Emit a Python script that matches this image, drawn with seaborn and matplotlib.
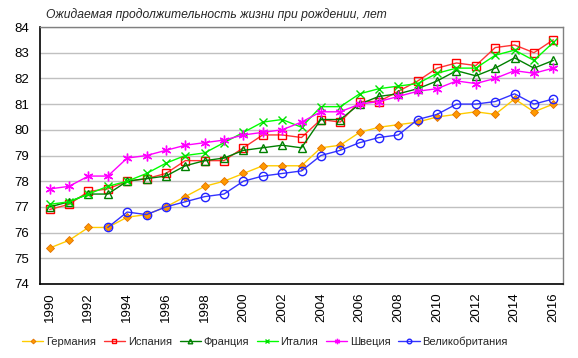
import matplotlib
matplotlib.use("Agg")
import matplotlib.pyplot as plt
import numpy as np
import pandas as pd
import seaborn as sns

YEARS = list(range(1990, 2017))

GERMANY = [75.4, 75.7, 76.2, 76.2, 76.6, 76.7, 77.0, 77.4, 77.8, 78.0, 78.3, 78.6, 78.6, 78.6,
           79.3, 79.4, 79.9, 80.1, 80.2, 80.3, 80.5, 80.6, 80.7, 80.6, 81.2, 80.7, 81.0]
SPAIN = [76.9, 77.1, 77.6, 77.7, 78.0, 78.1, 78.3, 78.8, 78.8, 78.8, 79.3, 79.8, 79.8, 79.7,
         80.4, 80.3, 81.1, 81.1, 81.5, 81.9, 82.4, 82.6, 82.5, 83.2, 83.3, 83.0, 83.5]
FRANCE = [77.0, 77.2, 77.5, 77.5, 78.0, 78.1, 78.2, 78.6, 78.8, 78.9, 79.2, 79.3, 79.4, 79.3,
          80.4, 80.4, 81.0, 81.3, 81.4, 81.6, 81.9, 82.3, 82.1, 82.4, 82.8, 82.4, 82.7]
ITALY = [77.1, 77.2, 77.5, 77.8, 78.0, 78.3, 78.7, 79.0, 79.1, 79.5, 79.9, 80.3, 80.4, 80.1,
         80.9, 80.9, 81.4, 81.6, 81.7, 81.8, 82.2, 82.4, 82.4, 82.9, 83.1, 82.7, 83.4]
SWEDEN = [77.7, 77.8, 78.2, 78.2, 78.9, 79.0, 79.2, 79.4, 79.5, 79.6, 79.8, 79.9, 80.0, 80.3,
          80.7, 80.7, 81.0, 81.1, 81.3, 81.5, 81.6, 81.9, 81.8, 82.0, 82.3, 82.2, 82.4]
UK = [np.nan, np.nan, np.nan, 76.2, 76.8, 76.7, 77.0, 77.2, 77.4, 77.5, 78.0, 78.2, 78.3, 78.4,
      79.0, 79.2, 79.5, 79.7, 79.8, 80.4, 80.6, 81.0, 81.0, 81.1, 81.4, 81.0, 81.2]

COUNTRIES = ["Германия", "Испания", "Франция", "Италия", "Швеция", "Великобритания"]
TITLE = "Ожидаемая продолжительность жизни при рождении, лет"

STYLES = {
    "Германия": dict(color="#FFCC00", marker="D", markersize=4.5, markerfacecolor="#FF9900",
                     markeredgecolor="#E07000", markeredgewidth=0.6),
    "Испания": dict(color="#FF3333", marker="s", markersize=6, markerfacecolor="none",
                    markeredgecolor="#FF0000", markeredgewidth=1.0),
    "Франция": dict(color="#008000", marker="^", markersize=6, markerfacecolor="none",
                    markeredgecolor="#008000", markeredgewidth=1.0),
    "Италия": dict(color="#00FF00", marker="x", markersize=6, markeredgecolor="#00E000",
                   markeredgewidth=1.0),
    "Швеция": dict(color="#FF00FF", marker=(6, 2, 0), markersize=7,
                   markeredgecolor="#FF00FF", markeredgewidth=1.0),
    "Великобритания": dict(color="#3333FF", marker="o", markersize=6, markerfacecolor="none",
                           markeredgecolor="#2222FF", markeredgewidth=1.0),
}

series = [GERMANY, SPAIN, FRANCE, ITALY, SWEDEN, UK]
frame = pd.DataFrame({"year": YEARS, **dict(zip(COUNTRIES, series))})
long = frame.melt(id_vars="year", var_name="country", value_name="value").dropna()

sns.set_style("white")
plt.rcParams["font.family"] = ["Liberation Sans", "DejaVu Sans"]

fig = plt.figure(figsize=(5.78, 3.58), dpi=100)
ax = fig.add_axes([40 / 578, 1 - 284 / 358, 523 / 578, 257 / 358])

for country in COUNTRIES:
    sub = long[long["country"] == country]
    sns.lineplot(data=sub, x="year", y="value", ax=ax, label=country,
                 linewidth=1.0, **STYLES[country])

ax.set_xlim(1989.5, 2016.5)
ax.set_ylim(74, 84)
ax.set_yticks(range(74, 85))
ax.set_xticks(range(1990, 2017, 2))
ax.set_xticklabels([str(y) for y in range(1990, 2017, 2)], rotation=90)
ax.grid(axis="y", color="#C0C0C0", linewidth=1.0)
ax.set_axisbelow(True)
ax.tick_params(axis="both", length=0, labelsize=9.5, colors="black")
ax.tick_params(axis="y", pad=8)
ax.tick_params(axis="x", pad=6)
ax.set_xlabel("")
ax.set_ylabel("")
for side in ["top", "right"]:
    ax.spines[side].set_color("#808080")
    ax.spines[side].set_linewidth(1.0)
for side in ["bottom", "left"]:
    ax.spines[side].set_color("black")
    ax.spines[side].set_linewidth(1.2)

handles, labels = ax.get_legend_handles_labels()
ax.get_legend().remove()
fig.legend(handles, labels, loc="center", bbox_to_anchor=(265 / 578, 1 - 342 / 358),
           ncol=6, frameon=False, fontsize=8, handlelength=1.9, handletextpad=0.25,
           columnspacing=0.7, markerscale=0.55, borderpad=0.2)

fig.text(46 / 578, 1 - 15 / 358, TITLE, fontsize=8.7, style="italic", va="center", ha="left")

fig.savefig("out.png", dpi=100)
